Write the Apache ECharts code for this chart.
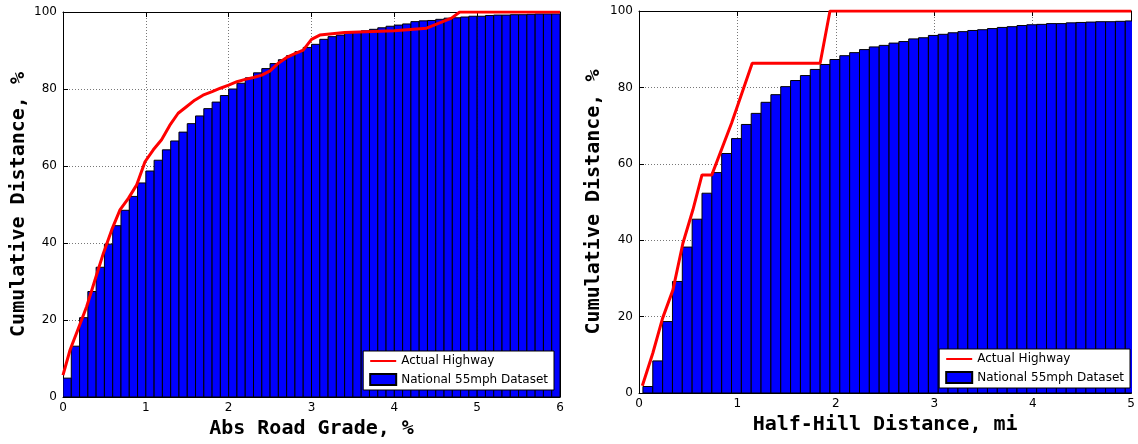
<!DOCTYPE html>
<html><head><meta charset="utf-8">
<script src="https://cdn.jsdelivr.net/npm/echarts@6/dist/echarts.min.js"></script>
<style>html,body{margin:0;padding:0;background:#fff}#c{width:1138px;height:444px}</style>
</head><body><div id="c"></div>
<script>
// ---- Left panel: Abs Road Grade, % ----
const gradeBinStart = 0, gradeBinWidth = 0.1;
const gradeNational = [4.9,13.2,20.6,27.4,33.7,39.7,44.5,48.5,52.1,55.6,
  58.7,61.5,64.2,66.5,68.8,71.0,73.0,74.9,76.6,78.3,
  80.0,81.5,82.9,84.2,85.3,86.6,87.6,88.7,89.7,90.8,
  91.6,92.9,93.6,94.0,94.5,94.8,95.1,95.5,95.9,96.3,
  96.6,96.9,97.5,97.7,97.8,98.1,98.4,98.5,98.7,98.9,
  98.9,99.1,99.2,99.2,99.3,99.3,99.4,99.5,99.5,99.5];
const gradeHwyX = [0,0.085,0.185,0.286,0.386,0.487,0.588,0.688,0.789,0.89,0.99,1.09,1.19,1.29,1.39,1.49,1.59,1.69,1.8,1.9,2.0,2.1,2.2,2.3,2.4,2.5,2.6,2.7,2.8,2.9,3.0,3.1,3.4,4.0,4.39,4.69,4.79,6];
const gradeHwyY = [5.7,12.2,17.8,23.5,30.4,37.3,43.4,48.6,51.6,55.1,61.1,64.2,66.8,70.6,73.7,75.4,77.1,78.4,79.3,80.2,81.0,81.9,82.5,83.0,83.6,84.7,86.7,88.2,89.2,90.1,92.9,94.0,94.7,95.1,95.8,98.4,100,100];
const gradeTicks = [0,1,2,3,4,5,6];

// ---- Right panel: Half-Hill Distance, mi ----
const hillBinStart = 0.04, hillBinWidth = 0.1;
const hillNational = [1.7,8.4,18.7,29.2,38.2,45.5,52.3,57.7,62.7,66.6,
  70.3,73.2,76.1,78.1,80.2,81.8,83.1,84.7,86.0,87.3,
  88.3,89.1,89.9,90.6,91.0,91.6,92.0,92.7,93.0,93.6,
  93.9,94.3,94.6,94.9,95.1,95.4,95.7,95.9,96.2,96.4,
  96.5,96.7,96.7,96.9,97.0,97.1,97.2,97.2,97.3,97.4];
const hillHwyX = [0.034,0.14,0.24,0.345,0.446,0.547,0.64,0.74,0.94,1.15,1.84,1.94,5];
const hillHwyY = [1.9,10.4,19.6,27.0,39.2,47.9,57.1,57.1,70.6,86.3,86.3,100,100];
const hillTicks = [0,1,2,3,4,5];

const yTicks = [0,20,40,60,80,100];

const NAT = 'National 55mph Dataset', HWY = 'Actual Highway';

function binData(start, width, vals) {
  return vals.map((v, i) => [start + i * width, start + (i + 1) * width, v]);
}
function barRender(params, api) {
  const p0 = api.coord([api.value(0), api.value(2)]);
  const p1 = api.coord([api.value(1), 0]);
  return {
    type: 'rect',
    shape: { x: p0[0], y: p0[1], width: p1[0] - p0[0], height: p1[1] - p0[1] },
    style: { fill: '#0000ff', stroke: '#000000', lineWidth: 1 }
  };
}

const labelFont = { color: '#000', fontFamily: 'DejaVu Sans', fontSize: 12 };
const nameFont = { color: '#000', fontFamily: 'DejaVu Sans Mono', fontWeight: 'bold', fontSize: 20 };
const split = { show: true, lineStyle: { color: '#777', width: 1, type: [1, 2] } };

function mainX(grid, max, name) {
  return { type: 'value', gridIndex: grid, min: 0, max: max, interval: 1, position: 'bottom',
    name: name, nameLocation: 'middle', nameGap: 19, nameTextStyle: nameFont,
    axisLine: { show: true, onZero: false, lineStyle: { color: '#000', width: 1 } },
    axisTick: { show: true, inside: true, length: 5, lineStyle: { color: '#000' } },
    axisLabel: Object.assign({ margin: 5 }, labelFont),
    splitLine: split };
}
function topX(grid, max) {
  return { type: 'value', gridIndex: grid, min: 0, max: max, interval: 1, position: 'top',
    axisLine: { show: true, onZero: false, lineStyle: { color: '#000', width: 1 } },
    axisTick: { show: true, inside: true, length: 5, lineStyle: { color: '#000' } },
    axisLabel: { show: false }, splitLine: { show: false } };
}
function mainY(grid, gap) {
  return { type: 'value', gridIndex: grid, min: 0, max: 100, interval: 20, position: 'left',
    name: 'Cumulative Distance, %', nameLocation: 'middle', nameGap: gap, nameTextStyle: nameFont,
    axisLine: { show: true, onZero: false, lineStyle: { color: '#000', width: 1 } },
    axisTick: { show: true, inside: true, length: 5, lineStyle: { color: '#000' } },
    axisLabel: Object.assign({ margin: 6 }, labelFont),
    splitLine: split };
}
function rightY(grid) {
  return { type: 'value', gridIndex: grid, min: 0, max: 100, interval: 20, position: 'right',
    axisLine: { show: true, onZero: false, lineStyle: { color: '#000', width: 1 } },
    axisTick: { show: true, inside: true, length: 5, lineStyle: { color: '#000' } },
    axisLabel: { show: false }, splitLine: { show: false } };
}
function legend(right, bottom) {
  return { data: [{ name: HWY, itemStyle: { opacity: 0 } }, { name: NAT, icon: 'rect' }],
    orient: 'vertical', right: right, bottom: bottom,
    backgroundColor: '#fff', borderColor: '#000', borderWidth: 1, borderRadius: 0,
    padding: [4, 6, 4, 6], itemGap: 6, itemWidth: 26, itemHeight: 11,
    textStyle: { color: '#000', fontFamily: 'DejaVu Sans', fontSize: 12 } };
}

const chart = echarts.init(document.getElementById('c'), null, { renderer: 'canvas' });
chart.setOption({
  animation: false,
  backgroundColor: '#fff',
  grid: [
    { left: 63, top: 12, width: 497, height: 385, containLabel: false },
    { left: 639, top: 11, width: 494, height: 382, containLabel: false }
  ],
  xAxis: [ mainX(0, 6, 'Abs Road Grade, %'), mainX(1, 5, 'Half-Hill Distance, mi'), topX(0, 6), topX(1, 5) ],
  yAxis: [ mainY(0, 34), mainY(1, 35), rightY(0), rightY(1) ],
  legend: [ legend(584, 54), legend(8, 56) ],
  series: [
    { name: NAT, type: 'custom', xAxisIndex: 0, yAxisIndex: 0, clip: true,
      itemStyle: { color: '#0000ff', borderColor: '#000', borderWidth: 1 },
      encode: { x: [0, 1], y: 2 },
      data: binData(gradeBinStart, gradeBinWidth, gradeNational), renderItem: barRender },
    { name: HWY, type: 'line', xAxisIndex: 0, yAxisIndex: 0, symbol: 'none', clip: true,
      lineStyle: { color: '#ff0000', width: 3 }, itemStyle: { color: '#ff0000' },
      data: gradeHwyX.map((x, i) => [x, gradeHwyY[i]]) },
    { name: NAT, type: 'custom', xAxisIndex: 1, yAxisIndex: 1, clip: true,
      itemStyle: { color: '#0000ff', borderColor: '#000', borderWidth: 1 },
      encode: { x: [0, 1], y: 2 },
      data: binData(hillBinStart, hillBinWidth, hillNational), renderItem: barRender },
    { name: HWY, type: 'line', xAxisIndex: 1, yAxisIndex: 1, symbol: 'none', clip: true,
      lineStyle: { color: '#ff0000', width: 3 }, itemStyle: { color: '#ff0000' },
      data: hillHwyX.map((x, i) => [x, hillHwyY[i]]) }
  ]
});
</script></body></html>
